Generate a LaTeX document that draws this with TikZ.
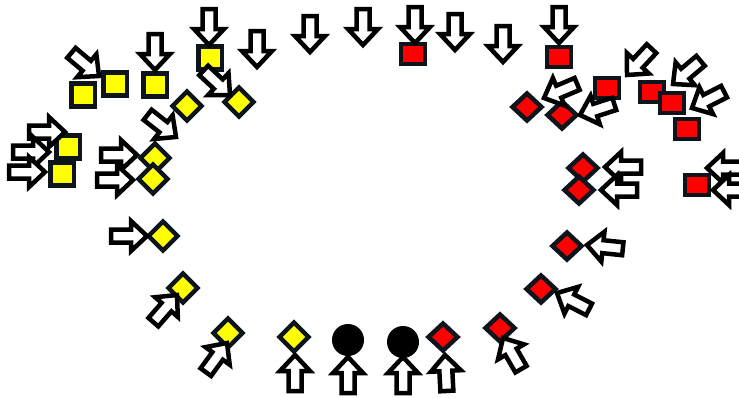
\documentclass[tikz,border=0pt]{standalone}
\usetikzlibrary{shapes.geometric}

\definecolor{yel}{HTML}{FFFF00}
\definecolor{rd}{HTML}{FF0000}
\definecolor{edge}{HTML}{0E141B}

\begin{document}
\begin{tikzpicture}[
    x=1pt, y=-1pt,
    mk/.style={draw=edge, line width=4.5pt, inner sep=0pt, outer sep=0pt},
    ysq/.style={mk, rectangle, fill=yel, minimum width=23.5pt, minimum height=23pt},
    rsq/.style={mk, rectangle, fill=rd, minimum width=24pt, minimum height=20pt},
    ydia/.style={mk, diamond, fill=yel, minimum width=29pt, minimum height=29pt},
    rdia/.style={mk, diamond, fill=rd, minimum width=29pt, minimum height=27pt},
    blob/.style={circle, fill=black, minimum size=32pt, inner sep=0pt},
    arrowline/.style={draw=black, fill=white, line width=4.5pt},
    barrow/.pic={\path[arrowline] (0,0) -- (-16,-15) -- (-16,-6.5) -- (-36,-6.5)
        -- (-36,6.5) -- (-16,6.5) -- (-16,15) -- cycle;},
]
\useasboundingbox (0,0) rectangle (739,397);
\clip (0,0) rectangle (739,397);

% ── Yellow squares ──
\node[ysq] (ys1) at (83,95) {};
\node[ysq] (ys2) at (115,84) {};
\node[ysq] (ys3) at (155,85) {};
\node[ysq] (ys4) at (210,58) {};
\node[ysq] (ys5) at (68,147) {};
\node[ysq] (ys6) at (62,174) {};

% ── Yellow diamonds ──
\node[ydia] (yd1) at (187,106) {};
\node[ydia] (yd2) at (239,102) {};
\node[ydia] (yd3) at (155,158) {};
\node[ydia] (yd4) at (153,179) {};
\node[ydia] (yd5) at (163,236) {};
\node[ydia] (yd6) at (183,288) {};
\node[ydia] (yd7) at (228,333) {};
\node[ydia] (yd8) at (294,337) {};

% ── Black dots ──
\node[blob] (bc1) at (348,340) {};
\node[blob] (bc2) at (403,342) {};

% ── Red diamonds ──
\node[rdia] (rd1) at (443,337) {};
\node[rdia] (rd2) at (500,328) {};
\node[rdia] (rd3) at (541,289) {};
\node[rdia] (rd4) at (567,246) {};
\node[rdia] (rd5) at (583,168) {};
\node[rdia] (rd6) at (579,190) {};
\node[rdia] (rd7) at (527,107) {};
\node[rdia] (rd8) at (562,115) {};

% ── Red squares ──
\node[rsq] (rs1) at (413,54) {};
\node[rsq] (rs2) at (559,57) {};
\node[rsq] (rs3) at (607,88) {};
\node[rsq] (rs4) at (652,92) {};
\node[rsq] (rs5) at (672,103) {};
\node[rsq] (rs6) at (687,129) {};
\node[rsq] (rs7) at (697,185) {};

% ── Top arrows (pointing down) ──
\pic[rotate=-40] at (99,76) {barrow};
\pic[rotate=-90] at (155,70) {barrow};
\pic[rotate=-90] at (209,45) {barrow};
\pic[rotate=-90] at (257,67) {barrow};
\pic[rotate=-90] at (310,52) {barrow};
\pic[rotate=-90] at (363,45) {barrow};
\pic[rotate=-90] at (415,43) {barrow};
\pic[rotate=-90] at (455,50) {barrow};
\pic[rotate=-90] at (503,62) {barrow};
\pic[rotate=-90] at (559,43) {barrow};
\pic[rotate=-43] at (230,95) {barrow};
\pic[rotate=-38] at (176,137) {barrow};

% ── Left arrows (pointing right / up) ──
\pic[rotate=0] at (65,132) {barrow};
\pic[rotate=0] at (49,152) {barrow};
\pic[rotate=0] at (45,172) {barrow};
\pic[rotate=0] at (137,155) {barrow};
\pic[rotate=0] at (133,180) {barrow};
\pic[rotate=0] at (147,236) {barrow};
\pic[rotate=49] at (177,295) {barrow};
\pic[rotate=54] at (227,343) {barrow};

% ── Bottom arrows (pointing up) ──
\pic[rotate=90] at (295,355) {barrow};
\pic[rotate=90] at (348,357) {barrow};
\pic[rotate=90] at (403,357) {barrow};
\pic[rotate=93] at (445,355) {barrow};

% ── Right arrows (pointing left) ──
\pic[rotate=120] at (503,338) {barrow};
\pic[rotate=153] at (557,293) {barrow};
\pic[rotate=174] at (587,245) {barrow};
\pic[rotate=180] at (605,167) {barrow};
\pic[rotate=180] at (601,190) {barrow};
\pic[rotate=180] at (707,168) {barrow};
\pic[rotate=180] at (713,190) {barrow};
\pic[rotate=-157] at (544,98) {barrow};
\pic[rotate=-162] at (580,115) {barrow};
\pic[rotate=-133] at (627,75) {barrow};
\pic[rotate=-140] at (673,84) {barrow};
\pic[rotate=-153] at (692,108) {barrow};

\end{tikzpicture}
\end{document}
